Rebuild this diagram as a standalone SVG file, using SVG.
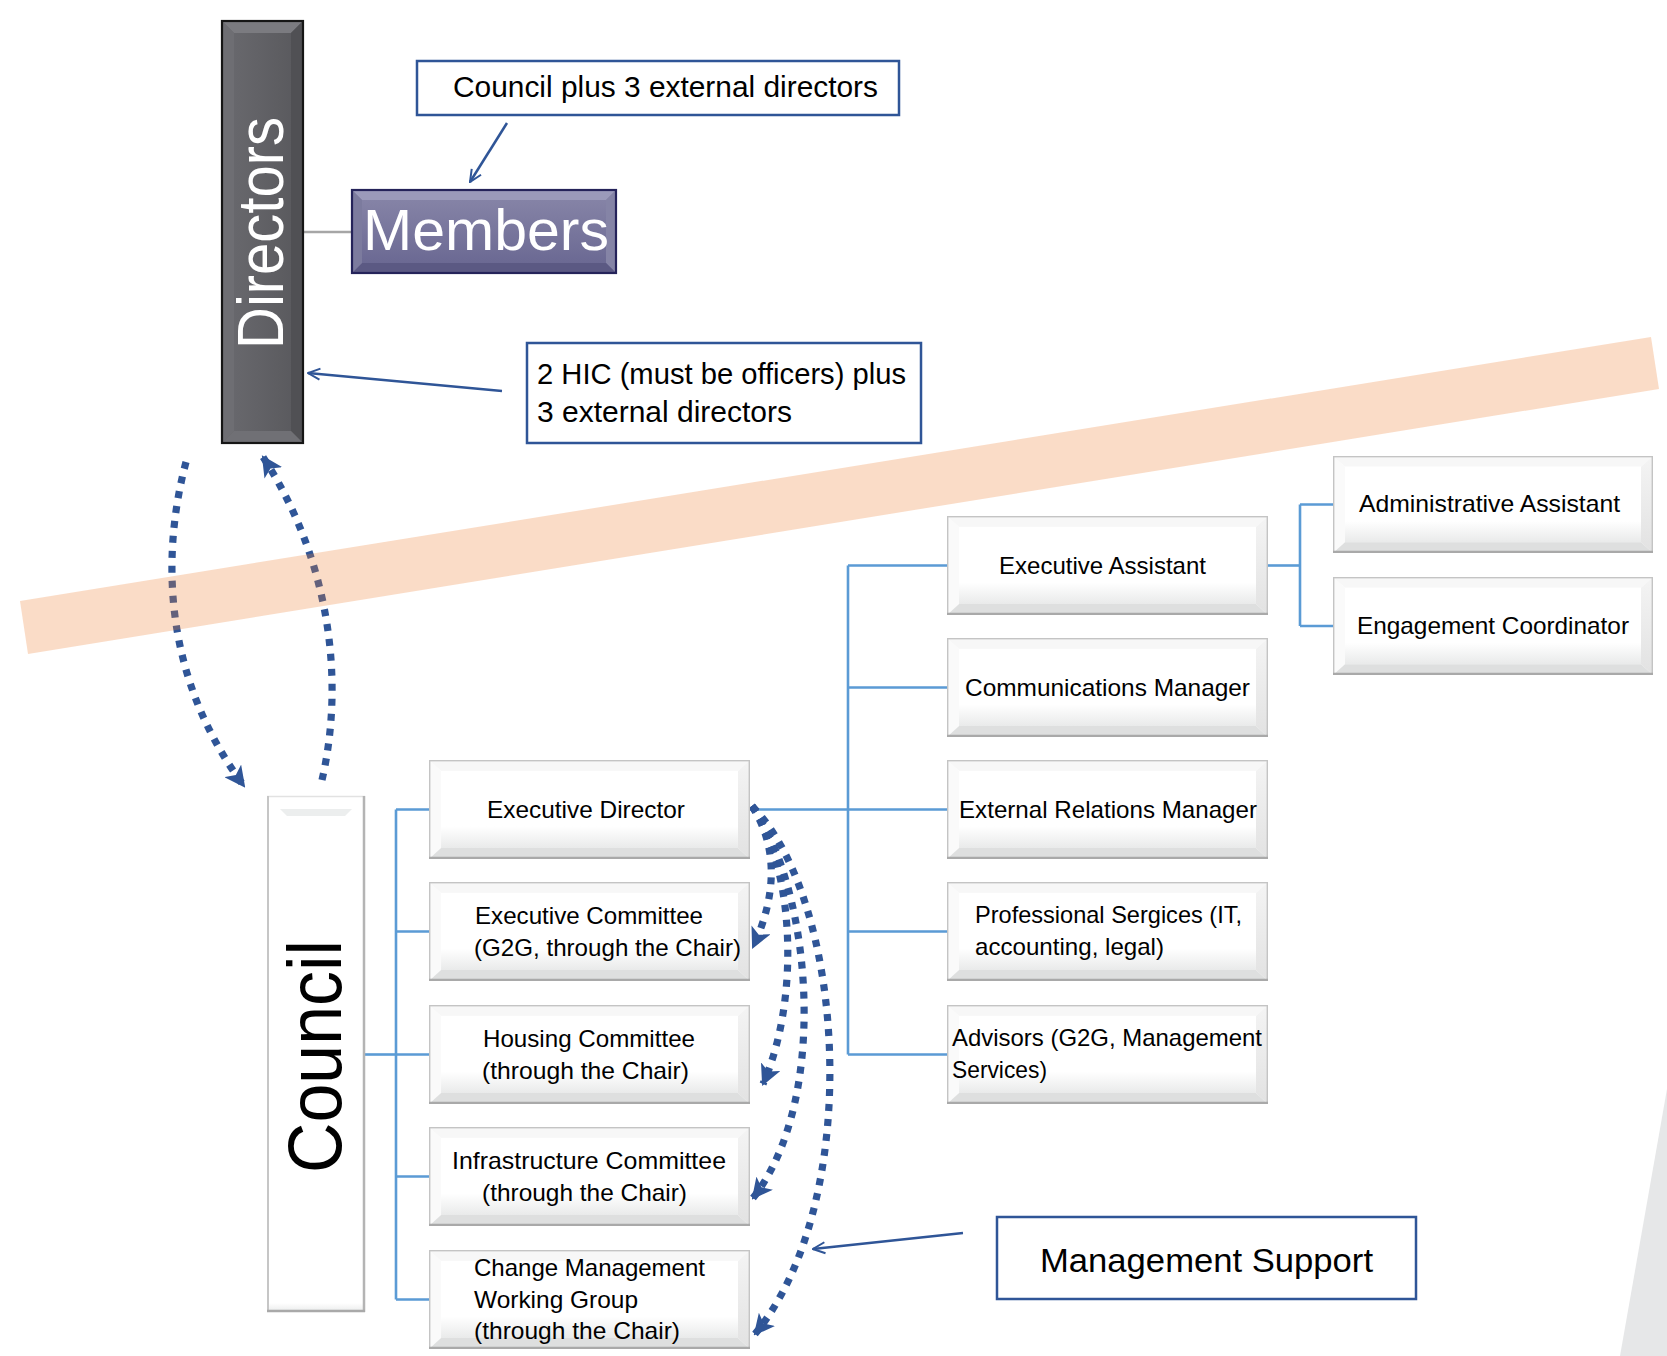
<svg xmlns="http://www.w3.org/2000/svg" width="1667" height="1356" viewBox="0 0 1667 1356">
<style>
.t{font-family:"Liberation Sans",Arial,sans-serif;font-size:24px;fill:#000}
.call{font-family:"Liberation Sans",Arial,sans-serif;fill:#000}
.cbox{fill:#fff;stroke:#2F5597;stroke-width:2.5}
.bl{fill:none;stroke:#5B9BD5;stroke-width:2.6}
.dot{fill:none;stroke:#2F5597;stroke-width:7.2;stroke-dasharray:7 8}
.arr{fill:none;stroke:#2F5597;stroke-width:2.5}
</style>
<defs>
<linearGradient id="face" x1="0" y1="0" x2="0" y2="1">
<stop offset="0" stop-color="#ffffff"/><stop offset="0.72" stop-color="#ffffff"/><stop offset="1" stop-color="#e9eaea"/>
</linearGradient>
<linearGradient id="rbev" x1="0" y1="0" x2="0" y2="1">
<stop offset="0" stop-color="#f4f4f4"/><stop offset="1" stop-color="#e2e2e2"/>
</linearGradient>
<linearGradient id="dface" x1="0" y1="0" x2="1" y2="0">
<stop offset="0" stop-color="#6a6a6f"/><stop offset="1" stop-color="#58585c"/>
</linearGradient>
<linearGradient id="mface" x1="0" y1="0" x2="0" y2="1">
<stop offset="0" stop-color="#8987a9"/><stop offset="1" stop-color="#676590"/>
</linearGradient>
<symbol id="bev" viewBox="0 0 320 100" preserveAspectRatio="none">
<rect x="0" y="0" width="320" height="100" fill="#fff"/>
<polygon points="0,0 320,0 308,11 12,11" fill="#f7f7f7"/>
<polygon points="0,0 12,11 12,89 0,100" fill="#fafafa"/>
<polygon points="320,0 320,100 308,89 308,11" fill="url(#rbev)"/>
<rect x="12" y="11" width="296" height="78" fill="url(#face)"/>
<polygon points="0,100 320,100 308,89 12,89" fill="#dedfdf"/>
<rect x="0.7" y="0.7" width="318.6" height="98.6" fill="none" stroke="#c4c4c4" stroke-width="1.4"/>
<line x1="0" y1="99" x2="320" y2="99" stroke="#a9a9a9" stroke-width="2.5"/>
</symbol>
<marker id="dh" viewBox="0 0 20 20" refX="18" refY="10" markerWidth="21" markerHeight="21" markerUnits="userSpaceOnUse" orient="auto">
<path d="M0,0 L20,10 L0,20 L5,10 z" fill="#2F5597"/>
</marker>
<marker id="vh" viewBox="0 0 14 14" refX="13" refY="7" markerWidth="14" markerHeight="14" markerUnits="userSpaceOnUse" orient="auto">
<path d="M1,1.5 L13,7 L1,12.5" fill="none" stroke="#2F5597" stroke-width="2"/>
</marker>
</defs>
<rect width="1667" height="1356" fill="#fff"/>
<polygon points="1667,1089 1620,1356 1667,1356" fill="#E6E7E8"/>

<g id="connectors">
<line x1="303" y1="232" x2="352" y2="232" stroke="#a6a6a6" stroke-width="2.5"/>
<path class="bl" d="M365,1054.5 H396" stroke-width="3.4"/>
<path class="bl" d="M396,809.5 V1299.5 M396,809.5 H429 M396,931.5 H429 M396,1054.5 H429 M396,1176.5 H429 M396,1299.5 H429"/>
<path class="bl" d="M750,809.5 H848 M848,565.5 V1054.5 M848,565.5 H947 M848,687.5 H947 M848,809.5 H947 M848,931.5 H947 M848,1054.5 H947"/>
<path class="bl" d="M1268,565.5 H1300" stroke-width="4.2"/>
<path class="bl" d="M1300,504.5 V626 M1300,504.5 H1333 M1300,626 H1333"/>
<path class="dot" d="M186,462 C160,560 165,680 244,786" marker-end="url(#dh)"/>
<path class="dot" d="M322,780 C345,680 330,560 263,457" marker-end="url(#dh)"/>
<path class="dot" d="M752,806 C780,850 775,900 753,947" marker-end="url(#dh)"/>
<path class="dot" d="M752,806 C795,870 800,1000 763,1084" marker-end="url(#dh)"/>
<path class="dot" d="M752,806 C812,890 830,1100 753,1198" marker-end="url(#dh)"/>
<path class="dot" d="M752,806 C845,900 865,1200 755,1334" marker-end="url(#dh)"/>
<path class="arr" d="M507,123 L470,182" marker-end="url(#vh)"/>
<path class="arr" d="M502,391 L308,373" marker-end="url(#vh)"/>
<path class="arr" d="M963,1233 L813,1249" marker-end="url(#vh)"/>
</g>

<polygon id="band" points="20,601 1651,337 1659,389 28,654" fill="#ED7D31" fill-opacity="0.27"/>

<g id="directors">
<rect x="222" y="21" width="81" height="422" fill="url(#dface)"/>
<polygon points="222,21 303,21 291,33 234,33" fill="#7b7b80"/>
<polygon points="222,21 234,33 234,431 222,443" fill="#6e6e73"/>
<polygon points="303,21 303,443 291,431 291,33" fill="#505054"/>
<polygon points="222,443 303,443 291,431 234,431" fill="#707075"/>
<rect x="222" y="21" width="81" height="422" fill="none" stroke="#161616" stroke-width="2.2"/>
<text transform="translate(283,233) rotate(-90)" text-anchor="middle" font-family="Liberation Sans, Arial, sans-serif" font-size="64" fill="#fff" textLength="232" lengthAdjust="spacingAndGlyphs">Directors</text>
</g>

<g id="members">
<rect x="352" y="190" width="264" height="83" fill="url(#mface)"/>
<polygon points="352,190 616,190 606,200 362,200" fill="#9b9aba"/>
<polygon points="616,190 616,273 606,263 606,200" fill="#8584a6"/>
<polygon points="352,273 616,273 606,263 362,263" fill="#5b5983"/>
<polygon points="352,190 362,200 362,263 352,273" fill="#7c7b9e"/>
<rect x="352" y="190" width="264" height="83" fill="none" stroke="#25235a" stroke-width="2.2"/>
<text x="363" y="250" font-family="Liberation Sans, Arial, sans-serif" font-size="57" fill="#fff" textLength="246" lengthAdjust="spacingAndGlyphs">Members</text>
</g>

<g id="note-members">
<rect class="cbox" x="417" y="61" width="482" height="54"/>
<text class="call" x="453" y="97" font-size="30" textLength="425" lengthAdjust="spacingAndGlyphs">Council plus 3 external directors</text>
</g>

<g id="note-directors">
<rect class="cbox" x="527" y="343" width="394" height="100"/>
<text class="call" x="537" y="384" font-size="29" textLength="369" lengthAdjust="spacingAndGlyphs">2 HIC (must be officers) plus</text>
<text class="call" x="537" y="422" font-size="29" textLength="255" lengthAdjust="spacingAndGlyphs">3 external directors</text>
</g>

<g id="note-mgmt">
<rect class="cbox" x="997" y="1217" width="419" height="82" stroke-width="3"/>
<text class="call" x="1040" y="1272" font-size="34" textLength="333" lengthAdjust="spacingAndGlyphs">Management Support</text>
</g>

<g id="council">
<rect x="267" y="796" width="98" height="516" fill="#fff"/>
<polygon points="280,809 352,809 345,816 287,816" fill="#eceeee"/>
<rect x="267" y="1280" width="98" height="32" fill="url(#face)"/>
<line x1="267" y1="796.5" x2="365" y2="796.5" stroke="#e2e2e2" stroke-width="1.5"/>
<line x1="268" y1="796" x2="268" y2="1312" stroke="#c6c6c6" stroke-width="2"/>
<line x1="364" y1="796" x2="364" y2="1312" stroke="#b4b4b4" stroke-width="2.5"/>
<line x1="267" y1="1311" x2="365" y2="1311" stroke="#a9a9a9" stroke-width="2.5"/>
<text transform="translate(341,1056.5) rotate(-90)" text-anchor="middle" font-family="Liberation Sans, Arial, sans-serif" font-size="76" fill="#000" textLength="233" lengthAdjust="spacingAndGlyphs">Council</text>
</g>

<g id="exec-director">
<use href="#bev" x="429" y="760" width="321" height="99"/>
<text class="t" x="487" y="818" textLength="198" lengthAdjust="spacingAndGlyphs">Executive Director</text>
</g>
<g id="exec-committee">
<use href="#bev" x="429" y="882" width="321" height="99"/>
<text class="t" x="475" y="924" textLength="228" lengthAdjust="spacingAndGlyphs">Executive Committee</text>
<text class="t" x="474" y="956" textLength="267" lengthAdjust="spacingAndGlyphs">(G2G, through the Chair)</text>
</g>
<g id="housing-committee">
<use href="#bev" x="429" y="1005" width="321" height="99"/>
<text class="t" x="483" y="1047" textLength="212" lengthAdjust="spacingAndGlyphs">Housing Committee</text>
<text class="t" x="482" y="1079" textLength="207" lengthAdjust="spacingAndGlyphs">(through the Chair)</text>
</g>
<g id="infra-committee">
<use href="#bev" x="429" y="1127" width="321" height="99"/>
<text class="t" x="452" y="1169" textLength="274" lengthAdjust="spacingAndGlyphs">Infrastructure Committee</text>
<text class="t" x="482" y="1201" textLength="205" lengthAdjust="spacingAndGlyphs">(through the Chair)</text>
</g>
<g id="change-mgmt">
<use href="#bev" x="429" y="1250" width="321" height="99"/>
<text class="t" x="474" y="1276" textLength="231" lengthAdjust="spacingAndGlyphs">Change Management</text>
<text class="t" x="474" y="1308" textLength="164" lengthAdjust="spacingAndGlyphs">Working Group</text>
<text class="t" x="474" y="1339" textLength="206" lengthAdjust="spacingAndGlyphs">(through the Chair)</text>
</g>

<g id="exec-assistant">
<use href="#bev" x="947" y="516" width="321" height="99"/>
<text class="t" x="999" y="574" textLength="207" lengthAdjust="spacingAndGlyphs">Executive Assistant</text>
</g>
<g id="comms-manager">
<use href="#bev" x="947" y="638" width="321" height="99"/>
<text class="t" x="965" y="696" textLength="285" lengthAdjust="spacingAndGlyphs">Communications Manager</text>
</g>
<g id="ext-relations">
<use href="#bev" x="947" y="760" width="321" height="99"/>
<text class="t" x="959" y="818" textLength="298" lengthAdjust="spacingAndGlyphs">External Relations Manager</text>
</g>
<g id="prof-services">
<use href="#bev" x="947" y="882" width="321" height="99"/>
<text class="t" x="975" y="923" textLength="267" lengthAdjust="spacingAndGlyphs">Professional Sergices (IT,</text>
<text class="t" x="975" y="955" textLength="189" lengthAdjust="spacingAndGlyphs">accounting, legal)</text>
</g>
<g id="advisors">
<use href="#bev" x="947" y="1005" width="321" height="99"/>
<text class="t" x="952" y="1046" textLength="310" lengthAdjust="spacingAndGlyphs">Advisors (G2G, Management</text>
<text class="t" x="952" y="1078" textLength="95" lengthAdjust="spacingAndGlyphs">Services)</text>
</g>
<g id="admin-assistant">
<use href="#bev" x="1333" y="456" width="320" height="97"/>
<text class="t" x="1359" y="512" textLength="261" lengthAdjust="spacingAndGlyphs">Administrative Assistant</text>
</g>
<g id="engagement">
<use href="#bev" x="1333" y="577" width="320" height="98"/>
<text class="t" x="1357" y="634" textLength="272" lengthAdjust="spacingAndGlyphs">Engagement Coordinator</text>
</g>
</svg>
